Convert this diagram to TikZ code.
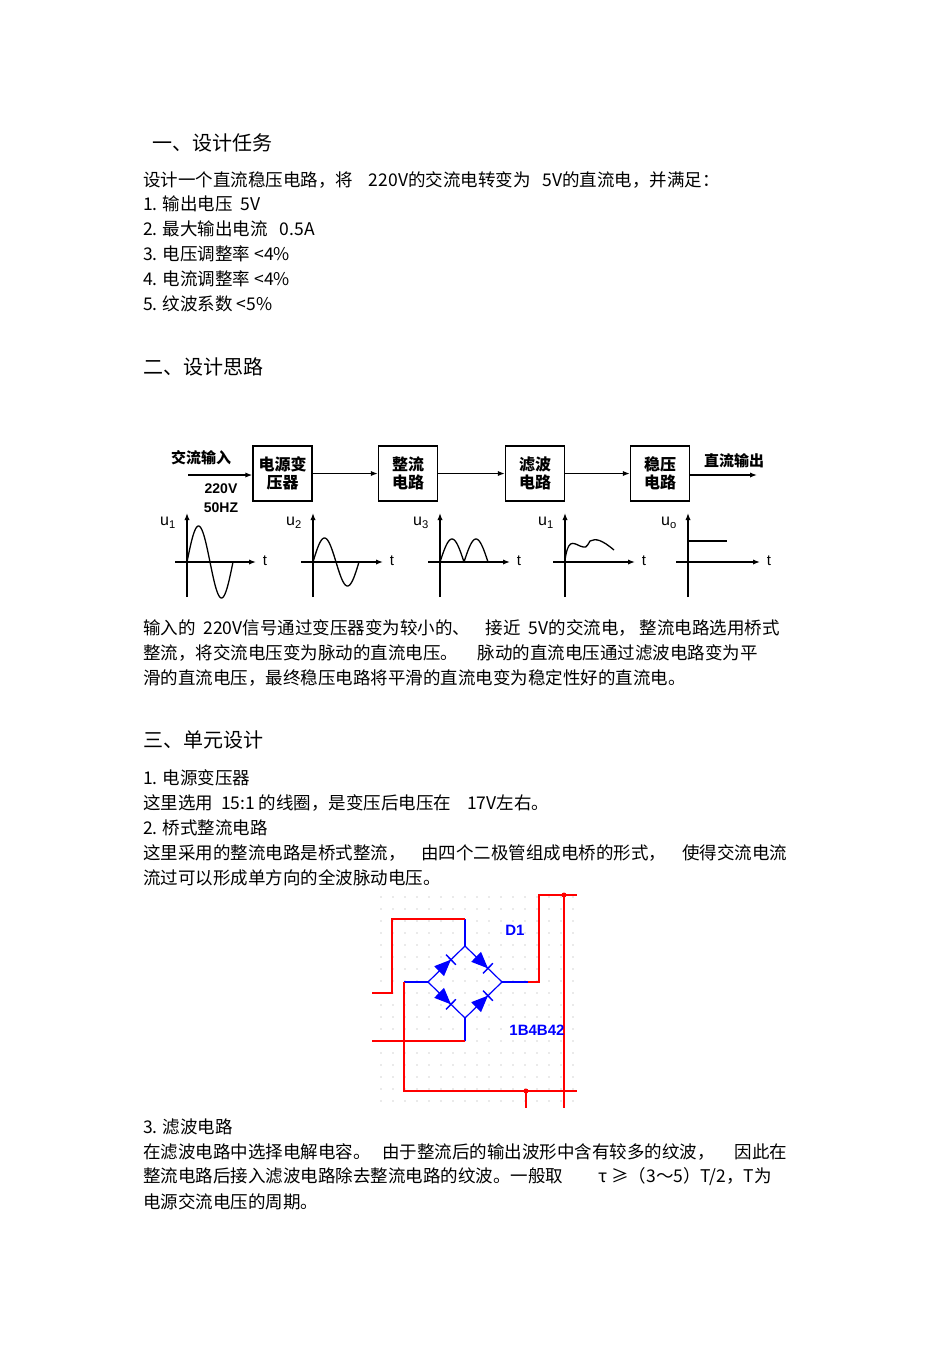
\documentclass[tikz,border=0pt]{standalone}
\usepackage{fontspec}
\setmainfont{Liberation Sans}
\newfontfamily\cjk{Noto Sans CJK SC}
\usetikzlibrary{arrows.meta,calc}
\begin{document}
\begin{tikzpicture}[x=1pt,y=-1pt,
 txt/.style={anchor=west,inner sep=0pt,font=\cjk\fontsize{17.5}{20}\selectfont},
 hd/.style={anchor=west,inner sep=0pt,font=\cjk\fontsize{20}{22}\selectfont},
 blk/.style={draw,line width=1.3pt,minimum width=59pt,minimum height=55pt,inner sep=0pt,align=center,font=\cjk\bfseries\fontsize{16}{18}\selectfont},
 lbl/.style={inner sep=0pt,font=\cjk\bfseries\fontsize{15}{16}\selectfont},
 ax/.style={line width=1.3pt,-{Latex[length=7pt]}},
 wv/.style={line width=1.3pt},
 rw/.style={red,line width=1.2pt},
 bw/.style={blue,line width=1.2pt}]
\useasboundingbox (0,0) rectangle (950,1345);
\fill[white] (0,0) rectangle (950,1345);
\node[hd] (h1) at (152,143) {一、设计任务};
\node[txt] (t1) at (143,180) {设计一个直流稳压电路，将\ \ \ \ 220V的交流电转变为\ \ \ 5V的直流电，并满足：};
\node[txt] (t2) at (143,204) {1. 输出电压\ \ 5V};
\node[txt] (t3) at (143,229) {2. 最大输出电流\ \ \ 0.5A};
\node[txt] (t4) at (143,254) {3. 电压调整率 <4\%};
\node[txt] (t5) at (143,279) {4. 电流调整率 <4\%};
\node[txt] (t6) at (143,304) {5. 纹波系数 <5\%};
\node[hd] (h2) at (143,367) {二、设计思路};
\node[blk] (b1) at (282.5,473.5) {电源变\\压器};
\node[blk] (b2) at (408,473.5) {整流\\电路};
\node[blk] (b3) at (535,473.5) {滤波\\电路};
\node[blk] (b4) at (660,473.5) {稳压\\电路};
\coordinate (in) at (188,475);
\coordinate (out) at (757,475);
\draw[ax] (in) -- (b1.west|-in);
\draw[ax] (b1) -- (b2);
\draw[ax] (b2) -- (b3);
\draw[ax] (b3) -- (b4);
\draw[ax] (b4.east|-out) -- (out);
\node[lbl] (l1) at (201,458) {交流输入};
\node[lbl,font=\bfseries\fontsize{14}{15}\selectfont] (l2) at (221,489) {220V};
\node[lbl,font=\bfseries\fontsize{14}{15}\selectfont] (l3) at (221,508) {50HZ};
\node[lbl] (l4) at (734,461) {直流输出};
\foreach \x/\te in {187/264,313/391,440/518,565/643,688/768}{
  \draw[ax] (\x,597) -- (\x,513);
  \draw[ax] (\x-12,562) -- (\te-8,562);
  \node[inner sep=0pt,font=\fontsize{15}{16}\selectfont] at (\te+1,561) {t};
}
\node[inner sep=0pt,font=\fontsize{16}{16}\selectfont] (u1) at (168,523) {u\textsubscript{1}};
\node[inner sep=0pt,font=\fontsize{16}{16}\selectfont] (u2) at (294,523) {u\textsubscript{2}};
\node[inner sep=0pt,font=\fontsize{16}{16}\selectfont] (u3) at (421,523) {u\textsubscript{3}};
\node[inner sep=0pt,font=\fontsize{16}{16}\selectfont] (u4) at (546,523) {u\textsubscript{1}};
\node[inner sep=0pt,font=\fontsize{16}{16}\selectfont] (u5) at (669,523) {u\textsubscript{o}};
\draw[wv,domain=0:360,samples=60] plot ({187+\x/360*46},{562-36*sin(\x)});
\draw[wv,domain=0:360,samples=60] plot ({313+\x/360*46},{562-24*sin(\x)});
\draw[wv,domain=0:360,samples=60] plot ({440+\x/360*48},{562-23*abs(sin(\x))});
\draw[wv] (565,560) .. controls (568,540) and (572,542) .. (580,546) .. controls (586,548) .. (590,541) .. controls (596,538) and (602,540) .. (614,550);
\draw[wv] (688,541) -- (727,541);
\node[txt] (p1) at (143,628) {输入的\ \ 220V信号通过变压器变为较小的、\ \ \ \ 接近\ \ 5V的交流电，\ 整流电路选用桥式};
\node[txt] (p2) at (143,653) {整流，将交流电压变为脉动的直流电压。\ \ \ \ \ 脉动的直流电压通过滤波电路变为平};
\node[txt] (p3) at (143,678) {滑的直流电压，最终稳压电路将平滑的直流电变为稳定性好的直流电。};
\node[hd] (h3) at (143,740) {三、单元设计};
\node[txt] (q1) at (143,778) {1. 电源变压器};
\node[txt] (q2) at (143,803) {这里选用\ \ 15:1\ 的线圈，是变压后电压在\ \ \ \ 17V左右。};
\node[txt] (q3) at (143,828) {2. 桥式整流电路};
\node[txt] (q4) at (143,853) {这里采用的整流电路是桥式整流，\ \ \ \ 由四个二极管组成电桥的形式，\ \ \ \ 使得交流电流};
\node[txt] (q5) at (143,878) {流过可以形成单方向的全波脉动电压。};
\foreach \i in {0,...,16}{\foreach \j in {0,...,17}{
  \fill[gray!70] (381+\i*12,897+\j*12) circle (0.6pt);}}
\coordinate (T) at (465,946);
\coordinate (L) at (428,982);
\coordinate (R) at (502,982);
\coordinate (B) at (465,1018);
\draw[bw] (T) -- (R) -- (B) -- (L) -- cycle;
\draw[bw] (T) -- (465,919);
\draw[bw] (L) -- (404,982);
\draw[bw] (B) -- (465,1041);
\draw[bw] (R) -- (528,982);
\draw[rw] (465,919) -- (392,919) -- (392,993) -- (372,993);
\draw[rw] (404,982) -- (404,1091) -- (577,1091);
\draw[rw] (465,1041) -- (372,1041);
\draw[rw] (528,982) -- (539,982) -- (539,895) -- (577,895);
\draw[rw] (564,895) -- (564,1108);
\draw[rw] (526,1091) -- (526,1108);
\fill[red] (564,895) circle (2.5pt);
\fill[red] (526,1091) circle (2.5pt);
\foreach \a/\b in {L/T,T/R,L/B,B/R}{
  \path (\a) -- (\b) coordinate[pos=0.3] (d1) coordinate[pos=0.62] (d2);
  \fill[blue] ($(d1)!7pt!90:(d2)$) -- ($(d1)!7pt!-90:(d2)$) -- (d2) -- cycle;
  \draw[blue,line width=1.5pt] ($(d2)!7pt!90:(d1)$) -- ($(d2)!7pt!-90:(d1)$);
}
\node[inner sep=0pt,blue,font=\bfseries\fontsize{15}{16}\selectfont] (D1) at (515,930) {D1};
\node[inner sep=0pt,blue,font=\bfseries\fontsize{15}{16}\selectfont] (D2) at (537,1030) {1B4B42};
\node[txt] (r1) at (143,1127) {3. 滤波电路};
\node[txt] (r2) at (143,1152) {在滤波电路中选择电解电容。\ \ \ 由于整流后的输出波形中含有较多的纹波，\ \ \ \ \ 因此在};
\node[txt] (r3) at (143,1177) {整流电路后接入滤波电路除去整流电路的纹波。一般取\ \ \ \ \ \ \ \ \ τ\ ≥（3～5）T/2，T为};
\node[txt] (r4) at (143,1202) {电源交流电压的周期。};
\end{tikzpicture}
\end{document}
